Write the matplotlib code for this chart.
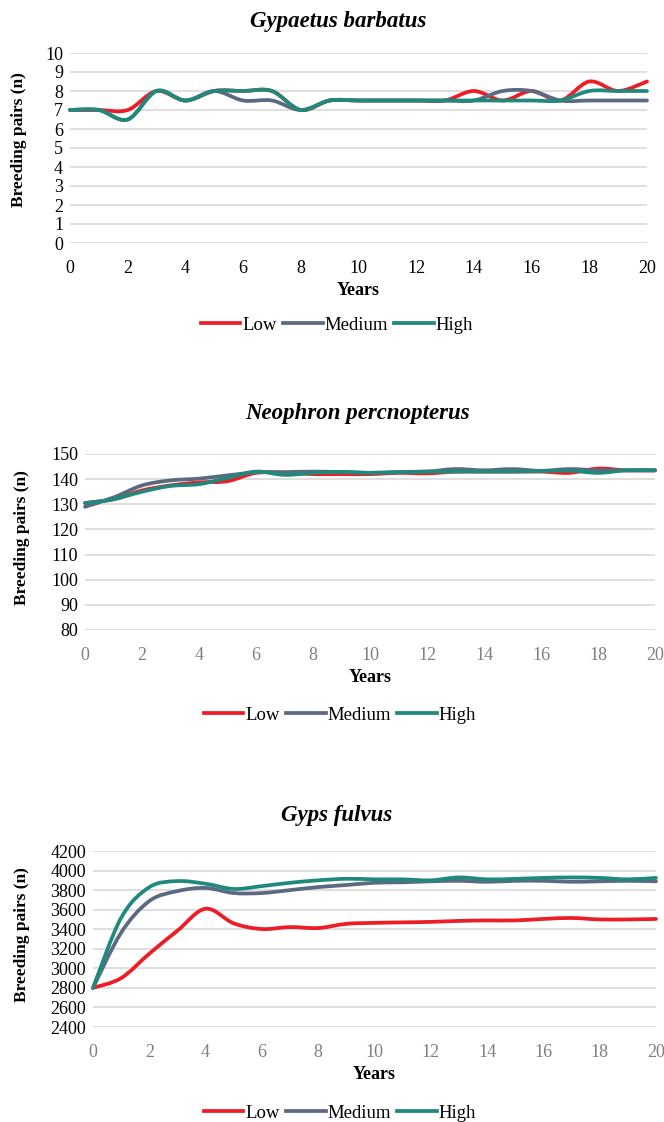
import matplotlib

matplotlib.use("Agg")

import matplotlib.pyplot as plt
import numpy as np
from matplotlib.lines import Line2D
from matplotlib.patches import PathPatch
from matplotlib.path import Path

years = list(range(21))

# Gypaetus barbatus
gb_low = [7, 7, 7, 8, 7.5, 8, 8, 8, 7, 7.5, 7.5, 7.5, 7.5, 7.5, 8, 7.5, 8, 7.5, 8.5, 8, 8.5]
gb_medium = [7, 7, 6.5, 8, 7.5, 8, 7.5, 7.5, 7, 7.5, 7.5, 7.5, 7.5, 7.5, 7.5, 8, 8, 7.5, 7.5, 7.5, 7.5]
gb_high = [7, 7, 6.5, 8, 7.5, 8, 8, 8, 7, 7.5, 7.5, 7.5, 7.5, 7.5, 7.5, 7.5, 7.5, 7.5, 8, 8, 8]

# Neophron percnopterus
np_low = [130.5, 132, 135.5, 137.5, 138.7, 139.2, 142.5, 142.5, 142, 142, 142, 142.5, 142.3,
          143, 143, 143, 143, 142.5, 144.2, 143.5, 143.5]
np_medium = [129, 132.7, 137.5, 139.5, 140.2, 141.5, 142.7, 142.8, 143, 142.8, 142.5, 142.8, 143,
             144, 143.5, 144, 143.3, 144, 143.5, 143.5, 143.5]
np_high = [130.5, 132, 135, 137.3, 138, 140.5, 143, 141.7, 142.5, 142.9, 142.5, 142.8, 143,
           143, 143, 143, 143.2, 143.4, 142.5, 143.5, 143.5]

# Gyps fulvus
gf_low = [2800, 2900, 3150, 3385, 3610, 3460, 3402, 3422, 3412, 3455, 3465, 3470, 3475,
          3485, 3490, 3490, 3505, 3515, 3500, 3500, 3505]
gf_medium = [2800, 3365, 3688, 3790, 3822, 3770, 3770, 3800, 3831, 3852, 3875, 3880, 3890,
             3895, 3885, 3895, 3895, 3885, 3890, 3895, 3890]
gf_high = [2800, 3517, 3830, 3892, 3865, 3812, 3841, 3875, 3900, 3916, 3910, 3910, 3900,
           3930, 3910, 3915, 3925, 3930, 3925, 3910, 3925]

scenarios = ["Low", "Medium", "High"]
colors = ["#ee1c25", "#5b6982", "#1f8a7c"]

W, H = 664, 1122
FONT = "Liberation Serif"
LW = 2.7


def smooth_path(x, y):
    # Excel-style smoothed line: cubic Bezier segments through every data point
    pts = np.column_stack([x, y]).astype(float)
    n = len(pts)
    verts = [pts[0]]
    codes = [Path.MOVETO]
    for i in range(n - 1):
        p_prev = pts[max(i - 1, 0)]
        p0 = pts[i]
        p1 = pts[i + 1]
        p_next = pts[min(i + 2, n - 1)]
        c1 = p0 + (p1 - p_prev) / 6.0
        c2 = p1 - (p_next - p0) / 6.0
        verts += [c1, c2, p1]
        codes += [Path.CURVE4] * 3
    return Path(verts, codes)


def fx(px):
    return px / W


def fy(py):
    return 1 - py / H


def panel(fig, box, series, ylim, ystep, title, title_pos, ylab_pos, legend_pos, xtick_color):
    left, right, top, bottom = box
    ax = fig.add_axes([fx(left), fy(bottom), (right - left) / W, (bottom - top) / H])
    for vals, col in zip(series, colors):
        patch = PathPatch(smooth_path(years, vals), facecolor="none", edgecolor=col,
                          lw=LW, capstyle="round", joinstyle="round", clip_on=False)
        ax.add_patch(patch)
    ax.set_xlim(0, 20)
    ax.set_ylim(*ylim)
    ax.set_xticks(range(0, 21, 2))
    ax.set_yticks(np.arange(ylim[0], ylim[1] + ystep / 2, ystep))
    ax.yaxis.grid(True, color="#d9d9d9", lw=1.2)
    ax.set_axisbelow(True)
    for s in ax.spines.values():
        s.set_visible(False)
    ax.tick_params(length=0, labelsize=13)
    ax.tick_params(axis="x", pad=12, colors=xtick_color)
    ax.tick_params(axis="y", pad=5, colors="#000000")
    for lab in ax.get_xticklabels() + ax.get_yticklabels():
        lab.set_family(FONT)
    ax.set_xlabel("Years", fontsize=13, fontweight="bold", family=FONT, labelpad=4)

    fig.text(fx(title_pos[0]), fy(title_pos[1]), title, ha="center", va="center",
             fontsize=16.5, fontweight="bold", style="italic", family=FONT)
    fig.text(fx(ylab_pos[0]), fy(ylab_pos[1]), "Breeding pairs (n)", ha="center", va="center",
             rotation=90, fontsize=12.5, fontweight="bold", family=FONT)

    handles = [Line2D([], [], color=c, lw=LW) for c in colors]
    fig.legend(handles, scenarios, loc="center", ncol=3, frameon=False,
               bbox_to_anchor=(fx(legend_pos[0]), fy(legend_pos[1])),
               bbox_transform=fig.transFigure,
               prop={"family": FONT, "size": 13.5},
               handlelength=2.1, handletextpad=0.1, columnspacing=0.35)
    return ax


fig = plt.figure(figsize=(W / 100, H / 100), dpi=100)
fig.patch.set_facecolor("white")

panel(fig, (70, 647, 53, 243), [gb_low, gb_medium, gb_high], (0, 10), 1,
      "Gypaetus barbatus", (338, 22), (19, 140), (337, 325), "#000000")
panel(fig, (85, 655, 454, 630), [np_low, np_medium, np_high], (80, 150), 10,
      "Neophron percnopterus", (358, 413), (22, 538), (340, 715), "#7f7f7f")
panel(fig, (93, 656, 851, 1027), [gf_low, gf_medium, gf_high], (2400, 4200), 200,
      "Gyps fulvus", (337, 816), (22, 935), (340, 1113), "#7f7f7f")

fig.savefig("out.png", dpi=100, facecolor=fig.get_facecolor())
